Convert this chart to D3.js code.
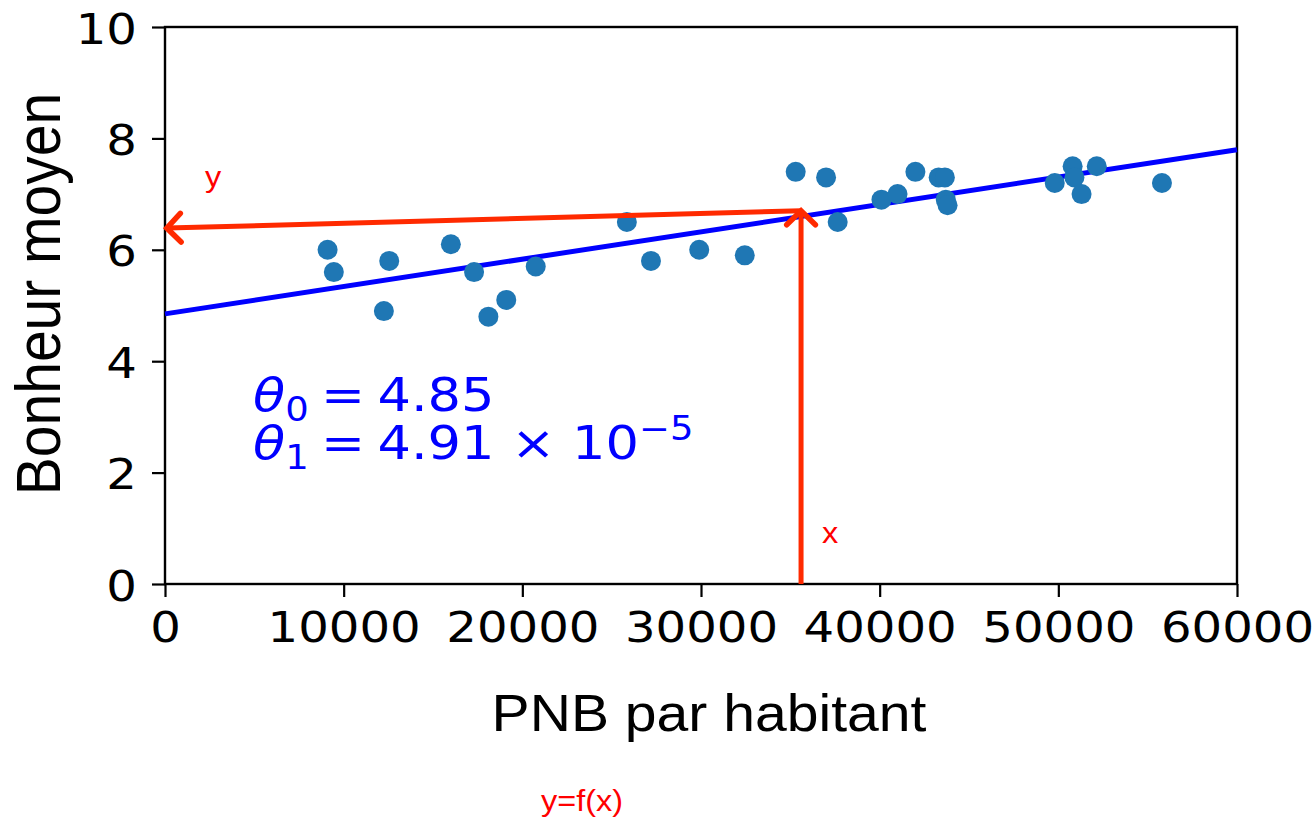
<!DOCTYPE html>
<html>
<head>
<meta charset="utf-8">
<script src="https://cdn.jsdelivr.net/npm/d3@7"></script>
<style>
  body { margin: 0; background: #fff; }
  svg { display: block; }
</style>
</head>
<body>
<svg id="chart"></svg>
<script>
// PNB par habitant vs bonheur moyen, with the fitted line
const pnb = [9100, 9450, 12250, 12550, 16000, 17300, 18100, 19100, 20750, 25850, 27200, 29900, 32450,
  35300, 37000, 37650, 40100, 41000, 42000, 43300, 43650, 43700, 43800, 49800, 50800, 50900, 51300, 52150, 55800];
const bonheur = [6.0, 5.6, 4.9, 5.8, 6.1, 5.6, 4.8, 5.1, 5.7, 6.5, 5.8, 6.0, 5.9,
  7.4, 7.3, 6.5, 6.9, 7.0, 7.4, 7.3, 7.3, 6.9, 6.8, 7.2, 7.5, 7.3, 7.0, 7.5, 7.2];
const xTicks = [0, 10000, 20000, 30000, 40000, 50000, 60000];
const yTicks = [0, 2, 4, 6, 8, 10];
const theta0 = 4.85;
const theta1 = 4.91e-5;
// red annotation: x picked on the axis, y read back on the axis
const arrowX = [35600, 35600];   // from, to (vertical arrow)
const arrowY = [0, 6.70];
const arrowBackX = [35600, 100]; // horizontal arrow back to the y axis
const arrowBackY = [6.70, 6.39];

const W = 1314, H = 820;
const margin = { top: 27, right: 77, bottom: 236, left: 165 };
const w = W - margin.left - margin.right;
const h = H - margin.top - margin.bottom;
const SX = 1.12; // the original picture is a bit stretched sideways

const svg = d3.select("#chart").attr("width", W).attr("height", H);
const g = svg.append("g").attr("transform", `translate(${margin.left},${margin.top})`);

const x = d3.scaleLinear().domain([0, 60000]).range([0, w]);
const y = d3.scaleLinear().domain([0, 10]).range([h, 0]);

const stretch = (sel, px, py) => sel.attr("transform", `translate(${px},${py}) scale(${SX},1)`);

// axes
const xAxis = g.append("g").attr("transform", `translate(0,${h})`)
  .call(d3.axisBottom(x).tickValues(xTicks).tickFormat(d3.format("d")).tickSize(13).tickPadding(0));
const yAxis = g.append("g")
  .call(d3.axisLeft(y).tickValues(yTicks).tickFormat(d3.format("d")).tickSize(13).tickPadding(0));

[xAxis, yAxis].forEach((a) => {
  a.select(".domain").remove();
  a.selectAll(".tick line").attr("stroke", "#000").attr("stroke-width", 2.2);
  a.selectAll(".tick text").attr("fill", "#000")
    .style("font-family", "DejaVu Sans").style("font-size", "43px");
});
xAxis.selectAll(".tick text").each(function () {
  d3.select(this).attr("y", null).attr("dy", null);
  stretch(d3.select(this), 0, 58);
});
yAxis.selectAll(".tick text").each(function () {
  d3.select(this).attr("x", null).attr("dy", null);
  stretch(d3.select(this), -28, 16);
});

// frame
g.append("rect").attr("width", w).attr("height", h)
  .attr("fill", "none").attr("stroke", "#000").attr("stroke-width", 2.4);

// fitted line
g.append("line")
  .attr("x1", x(0)).attr("y1", y(theta0))
  .attr("x2", x(60000)).attr("y2", y(theta0 + theta1 * 60000))
  .attr("stroke", "#0000ff").attr("stroke-width", 5);

// points
g.selectAll("circle").data(pnb).join("circle")
  .attr("cx", (d) => x(d))
  .attr("cy", (d, i) => y(bonheur[i]))
  .attr("r", 10)
  .attr("fill", "#1f77b4");

// red arrows
const red = "#ff2a00";
function arrow(xs, ys) {
  const x1 = x(xs[0]), y1 = y(ys[0]), x2 = x(xs[1]), y2 = y(ys[1]);
  g.append("line").attr("x1", x1).attr("y1", y1).attr("x2", x2).attr("y2", y2)
    .attr("stroke", red).attr("stroke-width", 5);
  const a = Math.atan2(y2 - y1, x2 - x1);
  const len = 20, spread = 0.8;
  const p = (t) => [x2 - len * Math.cos(a + t), y2 - len * Math.sin(a + t)];
  g.append("path")
    .attr("d", d3.line()([p(spread), [x2, y2], p(-spread)]))
    .attr("fill", "none").attr("stroke", red).attr("stroke-width", 5.5)
    .attr("stroke-linecap", "round").attr("stroke-linejoin", "miter");
}
arrow(arrowX, arrowY);
arrow(arrowBackX, arrowBackY);

// red labels
const redText = (txt, px, py, size) => {
  const t = svg.append("text").text(txt).attr("text-anchor", "middle")
    .attr("fill", "red").style("font-family", "Liberation Sans, Arial").style("font-size", size + "px");
  stretch(t, px, py);
};
redText("y", 213, 187, 29);
redText("x", 830, 543, 29);
redText("y=f(x)", 582, 811, 29);

// theta annotation
const eq = svg.append("g").attr("fill", "#0000ff")
  .style("font-family", "DejaVu Sans").style("font-size", "47px");
function eqLine(sub, rhs, sup, py) {
  const t = eq.append("text");
  stretch(t, 253, py);
  t.append("tspan").style("font-style", "italic").text("θ");
  t.append("tspan").attr("dy", 10).style("font-size", "33px").text(sub);
  t.append("tspan").attr("dy", -10).attr("dx", 11).text("=");
  t.append("tspan").attr("dx", 11).text(rhs);
  if (sup) t.append("tspan").attr("dy", -19).style("font-size", "33px").text(sup);
}
eqLine("0", "4.85", null, 411);
eqLine("1", "4.91 × 10", "−5", 459);

// axis titles
const xt = svg.append("text").text("PNB par habitant").attr("text-anchor", "middle")
  .style("font-family", "Liberation Sans, Arial").style("font-size", "51px").attr("fill", "#000");
stretch(xt, 709, 731);
svg.append("text").text("Bonheur moyen").attr("text-anchor", "middle")
  .style("font-family", "Liberation Sans, Arial").style("font-size", "57px").attr("fill", "#000")
  .attr("transform", `translate(60,294) rotate(-90) scale(1,${SX})`);
</script>
</body>
</html>
